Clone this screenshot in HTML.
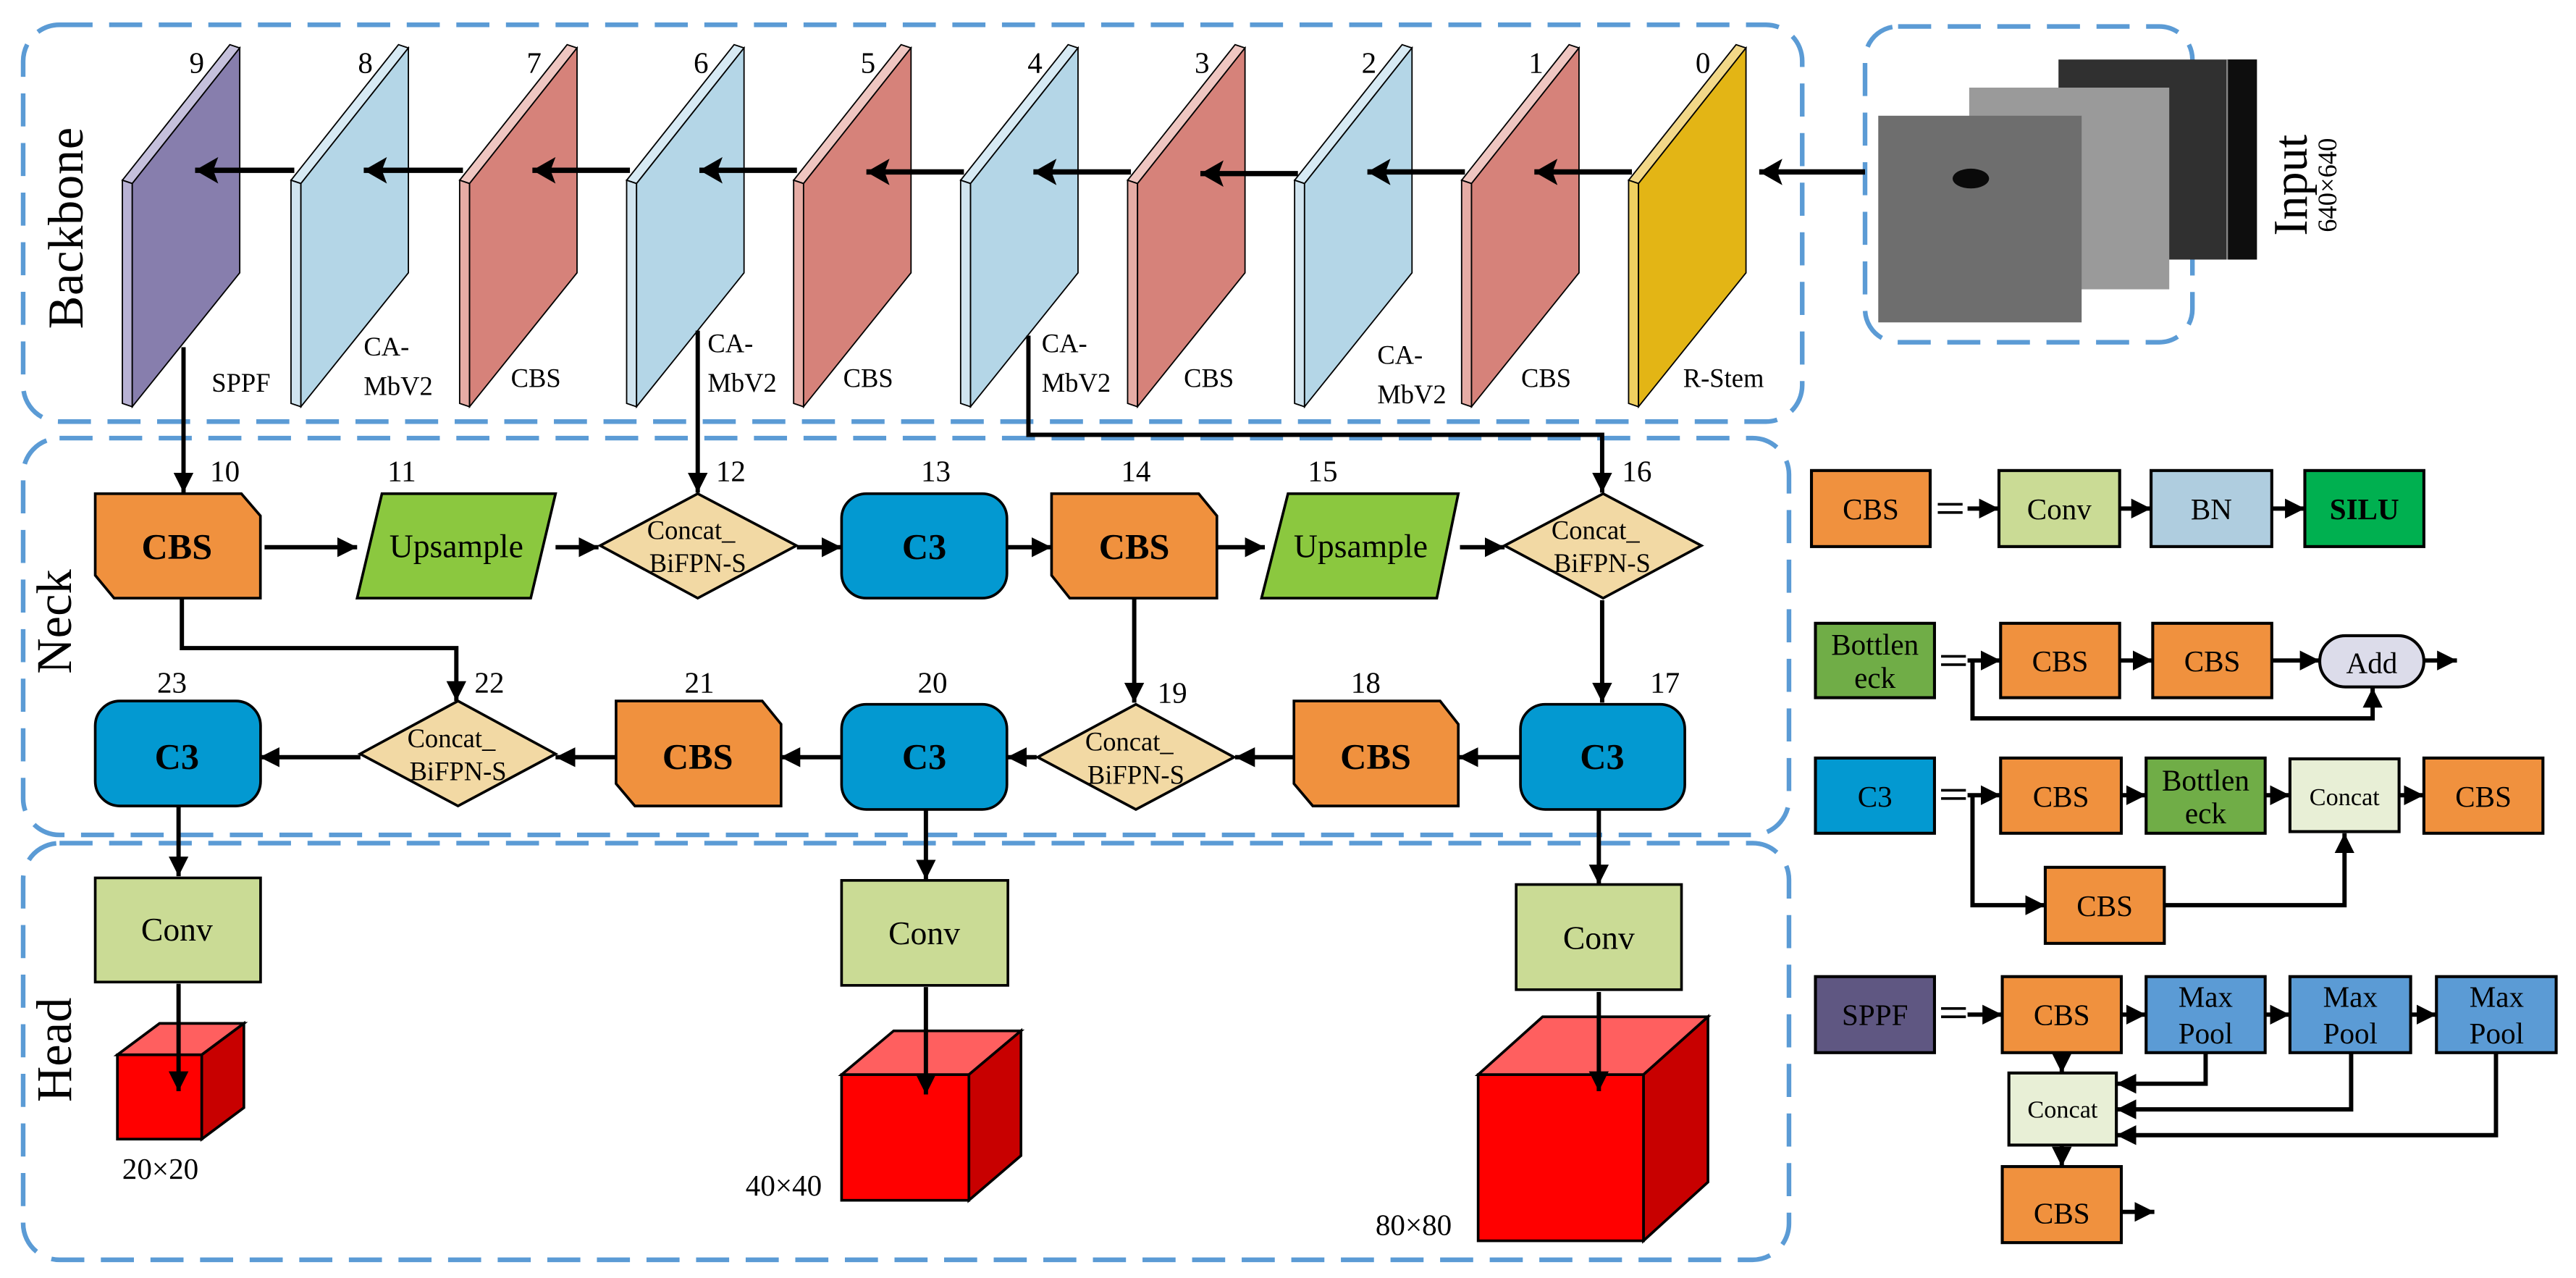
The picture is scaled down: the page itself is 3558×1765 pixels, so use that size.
<!DOCTYPE html>
<html><head><meta charset="utf-8"><style>
html,body{margin:0;padding:0;background:#fff;}
svg{display:block;font-family:"Liberation Serif","Times New Roman",serif;}
text{font-family:"Liberation Serif","Times New Roman",serif;}
</style></head><body>
<svg width="3558" height="1765" viewBox="0 0 1558 773" preserveAspectRatio="none" xmlns="http://www.w3.org/2000/svg" font-family="Liberation Serif, serif">
<defs>
<marker id="a" markerUnits="userSpaceOnUse" markerWidth="14" markerHeight="12" refX="12" refY="6" orient="auto"><path d="M0,0 L12,6 L0,12 z" fill="#000"/></marker>
<marker id="b" markerUnits="userSpaceOnUse" markerWidth="16" markerHeight="16" refX="14" refY="8" orient="auto"><path d="M0,0 L14,8 L0,16 L3,8 z" fill="#000"/></marker>
</defs>
<rect width="1558" height="773" fill="#fff"/>
<g fill="none" stroke="#5b9bd5" stroke-width="2.8" stroke-dasharray="20 10">
<rect x="14" y="15" width="1076" height="240" rx="22"/>
<rect x="1128" y="16" width="198" height="191" rx="20"/>
<rect x="14" y="265" width="1068" height="240" rx="22"/>
<rect x="14" y="510" width="1068" height="252" rx="22"/>
</g>
<g font-size="30" fill="#000">
<text transform="translate(50,138) rotate(-90)" text-anchor="middle" textLength="122">Backbone</text>
<text transform="translate(43,376) rotate(-90)" text-anchor="middle">Neck</text>
<text transform="translate(43,635) rotate(-90)" text-anchor="middle">Head</text>
<text transform="translate(1395,112) rotate(-90)" text-anchor="middle" font-size="29">Input</text>
<text transform="translate(1413,112) rotate(-90)" text-anchor="middle" font-size="16">640×640</text>
</g>
<rect x="1245" y="36" width="120" height="121" fill="#303030"/>
<rect x="1347" y="36" width="18" height="121" fill="#0e0e0e"/>
<line x1="1347" y1="36" x2="1347" y2="157" stroke="#888" stroke-width="1"/>
<rect x="1191" y="53" width="121" height="122" fill="#9a9a9a"/>
<rect x="1136" y="70" width="123" height="125" fill="#6e6e6e"/>
<ellipse cx="1192" cy="108" rx="11" ry="6" fill="#0a0a0a"/>
<g stroke="#000" stroke-width="0.8">
<g><polygon points="74,109 139,27 145,29 80,111" fill="#c5c0dc"/><polygon points="74,109 80,111 80,246 74,244" fill="#b8b2d4"/><polygon points="80,111 145,29 145,165 80,246" fill="#877ead"/></g>
<g><polygon points="176,109 241,27 247,29 182,111" fill="#d7eaf4"/><polygon points="176,109 182,111 182,246 176,244" fill="#d0e4ef"/><polygon points="182,111 247,29 247,165 182,246" fill="#b4d6e7"/></g>
<g><polygon points="278,109 343,27 349,29 284,111" fill="#efc6c1"/><polygon points="278,109 284,111 284,246 278,244" fill="#e6aca5"/><polygon points="284,111 349,29 349,165 284,246" fill="#d6827a"/></g>
<g><polygon points="379,109 444,27 450,29 385,111" fill="#d7eaf4"/><polygon points="379,109 385,111 385,246 379,244" fill="#d0e4ef"/><polygon points="385,111 450,29 450,165 385,246" fill="#b4d6e7"/></g>
<g><polygon points="480,109 545,27 551,29 486,111" fill="#efc6c1"/><polygon points="480,109 486,111 486,246 480,244" fill="#e6aca5"/><polygon points="486,111 551,29 551,165 486,246" fill="#d6827a"/></g>
<g><polygon points="581,109 646,27 652,29 587,111" fill="#d7eaf4"/><polygon points="581,109 587,111 587,246 581,244" fill="#d0e4ef"/><polygon points="587,111 652,29 652,165 587,246" fill="#b4d6e7"/></g>
<g><polygon points="682,109 747,27 753,29 688,111" fill="#efc6c1"/><polygon points="682,109 688,111 688,246 682,244" fill="#e6aca5"/><polygon points="688,111 753,29 753,165 688,246" fill="#d6827a"/></g>
<g><polygon points="783,109 848,27 854,29 789,111" fill="#d7eaf4"/><polygon points="783,109 789,111 789,246 783,244" fill="#d0e4ef"/><polygon points="789,111 854,29 854,165 789,246" fill="#b4d6e7"/></g>
<g><polygon points="884,109 949,27 955,29 890,111" fill="#efc6c1"/><polygon points="884,109 890,111 890,246 884,244" fill="#e6aca5"/><polygon points="890,111 955,29 955,165 890,246" fill="#d6827a"/></g>
<g><polygon points="985,109 1050,27 1056,29 991,111" fill="#f2d888"/><polygon points="985,109 991,111 991,246 985,244" fill="#efcf60"/><polygon points="991,111 1056,29 1056,165 991,246" fill="#e3b515"/></g>
</g>
<g font-size="18" text-anchor="middle">
<text x="119" y="44">9</text><text x="221" y="44">8</text><text x="323" y="44">7</text><text x="424" y="44">6</text><text x="525" y="44">5</text><text x="626" y="44">4</text><text x="727" y="44">3</text><text x="828" y="44">2</text><text x="929" y="44">1</text><text x="1030" y="44">0</text>
</g>
<g font-size="16">
<text x="128" y="237">SPPF</text>
<text x="220" y="215">CA-</text><text x="220" y="239">MbV2</text>
<text x="309" y="234">CBS</text>
<text x="428" y="213">CA-</text><text x="428" y="237">MbV2</text>
<text x="510" y="234">CBS</text>
<text x="630" y="213">CA-</text><text x="630" y="237">MbV2</text>
<text x="716" y="234">CBS</text>
<text x="833" y="220">CA-</text><text x="833" y="244">MbV2</text>
<text x="920" y="234">CBS</text>
<text x="1018" y="234">R-Stem</text>
</g>
<g stroke="#000" stroke-width="3.2" marker-end="url(#b)">
<line x1="178" y1="103" x2="118" y2="103"/>
<line x1="280" y1="103" x2="220" y2="103"/>
<line x1="381" y1="103" x2="322" y2="103"/>
<line x1="482" y1="103" x2="423" y2="103"/>
<line x1="583" y1="104" x2="524" y2="104"/>
<line x1="684" y1="104" x2="625" y2="104"/>
<line x1="785" y1="105" x2="726" y2="105"/>
<line x1="886" y1="104" x2="827" y2="104"/>
<line x1="987" y1="104" x2="928" y2="104"/>
<line x1="1128" y1="104" x2="1064" y2="104"/>
</g>
<g stroke="#000" stroke-width="2.6" fill="none" marker-end="url(#a)">
<polyline points="111,210 111,298"/>
<polyline points="422,200 422,298"/>
<polyline points="622,203 622,263 969,263 969,298"/>
<polyline points="160,331 216,331"/>
<polyline points="336,331 362,331"/>
<polyline points="482,331 509,331"/>
<polyline points="609,331 636,331"/>
<polyline points="736,331 765,331"/>
<polyline points="883,331 910,331"/>
<polyline points="969,363 969,425"/>
<polyline points="919,458 882,458"/>
<polyline points="782,458 747,458"/>
<polyline points="627,458 609,458"/>
<polyline points="509,458 472,458"/>
<polyline points="372,458 336,458"/>
<polyline points="218,458 157,458"/>
<polyline points="686,362 686,425"/>
<polyline points="110,362 110,392 276,392 276,424"/>
<polyline points="108,488 108,530"/>
<polyline points="560,490 560,532"/>
<polyline points="967,490 967,535"/>
</g>
<g stroke="#000" stroke-width="1.6">
<path d="M57.6,298.6 H146 L157.5,312 V361.8 H69 L57.6,348 Z" fill="#f0913e"/>
<path d="M636,298.6 H725 L736,312 V361.8 H647 L636,348 Z" fill="#f0913e"/>
<path d="M782.6,424 H871 L882,438 V487.5 H794 L782.6,474 Z" fill="#f0913e"/>
<path d="M372.6,424 H461 L472.4,438 V487.5 H384 L372.6,474 Z" fill="#f0913e"/>
<polygon points="231,298.6 336,298.6 321,361.8 216,361.8" fill="#8bc83f"/>
<polygon points="779,298.6 882,298.6 869,361.8 763,361.8" fill="#8bc83f"/>
<polygon points="363,330 422,298.6 481.7,330 422,361.8" fill="#f2d9a4"/>
<polygon points="910,330 969.6,298.6 1029,330 969.6,361.8" fill="#f2d9a4"/>
<polygon points="627.6,458 687,426 746.4,458 687,489.6" fill="#f2d9a4"/>
<polygon points="217.8,456 277,424 336,456 277,487.5" fill="#f2d9a4"/>
<rect x="509" y="298.6" width="100" height="63.2" rx="15" fill="#0399d1"/>
<rect x="919.6" y="426" width="99.4" height="63.6" rx="15" fill="#0399d1"/>
<rect x="509" y="426" width="100" height="63.6" rx="15" fill="#0399d1"/>
<rect x="57.6" y="424" width="100" height="63.5" rx="15" fill="#0399d1"/>
<rect x="57.6" y="531" width="100" height="63" fill="#cadb95"/>
<rect x="509" y="532.5" width="100.6" height="63.5" fill="#cadb95"/>
<rect x="917" y="535" width="100" height="63.6" fill="#cadb95"/>
<polygon points="71,638 96.5,619 147.5,619 122,638" fill="#ff5f5f"/>
<polygon points="122,638 147.5,619 147.5,670 122,689" fill="#c80000"/>
<rect x="71" y="638" width="51" height="51" fill="#ff0000"/>
<polygon points="509,650 540.5,623.5 617.5,623.5 586,650" fill="#ff5f5f"/>
<polygon points="586,650 617.5,623.5 617.5,699 586,726" fill="#c80000"/>
<rect x="509" y="650" width="77" height="76" fill="#ff0000"/>
<polygon points="894,650 933,615 1033,615 994,650" fill="#ff5f5f"/>
<polygon points="994,650 1033,615 1033,715 994,750.5" fill="#c80000"/>
<rect x="894" y="650" width="100" height="100.5" fill="#ff0000"/>
</g>
<g stroke="#000" stroke-width="2.6" marker-end="url(#a)">
<line x1="108" y1="595" x2="108" y2="660"/>
<line x1="560" y1="597" x2="560" y2="662"/>
<line x1="967" y1="600" x2="967" y2="660"/>
</g>
<g font-size="22" font-weight="bold" text-anchor="middle">
<text x="107" y="338">CBS</text><text x="686" y="338">CBS</text>
<text x="832" y="465">CBS</text><text x="422" y="465">CBS</text>
<text x="559" y="338">C3</text><text x="969" y="465">C3</text><text x="559" y="465">C3</text><text x="107" y="465">C3</text>
</g>
<g font-size="20" text-anchor="middle">
<text x="276" y="337">Upsample</text><text x="823" y="337">Upsample</text>
<text x="107" y="569">Conv</text><text x="559" y="571">Conv</text><text x="967" y="574">Conv</text>
</g>
<g font-size="16" text-anchor="middle">
<text x="418" y="326">Concat_</text><text x="422" y="346">BiFPN-S</text>
<text x="965" y="326">Concat_</text><text x="969" y="346">BiFPN-S</text>
<text x="683" y="454">Concat_</text><text x="687" y="474">BiFPN-S</text>
<text x="273" y="452">Concat_</text><text x="277" y="472">BiFPN-S</text>
</g>
<g font-size="18" text-anchor="middle">
<text x="136" y="291">10</text><text x="243" y="291">11</text><text x="442" y="291">12</text>
<text x="566" y="291">13</text><text x="687" y="291">14</text><text x="800" y="291">15</text><text x="990" y="291">16</text>
<text x="1007" y="419">17</text><text x="826" y="419">18</text><text x="709" y="425">19</text>
<text x="564" y="419">20</text><text x="423" y="419">21</text><text x="296" y="419">22</text><text x="104" y="419">23</text>
</g>
<g font-size="18" text-anchor="middle">
<text x="97" y="713">20×20</text><text x="474" y="723">40×40</text><text x="855" y="747">80×80</text>
</g>
<g stroke="#000" stroke-width="1.8">
<rect x="1095.6" y="284.6" width="71.8" height="46" fill="#f0913e"/>
<rect x="1209" y="284.6" width="73" height="46" fill="#cadb95"/>
<rect x="1301" y="284.6" width="73" height="46" fill="#afcddf"/>
<rect x="1394" y="284.6" width="72" height="46" fill="#00b050"/>
<rect x="1098" y="377" width="72" height="45" fill="#70ad47"/>
<rect x="1210" y="377" width="72" height="45" fill="#f0913e"/>
<rect x="1302" y="377" width="72" height="45" fill="#f0913e"/>
<rect x="1403" y="384.5" width="63" height="31" rx="15.5" fill="#dcdcea"/>
<rect x="1098" y="458.5" width="72" height="45.5" fill="#0399d1"/>
<rect x="1210" y="458.5" width="73" height="45.5" fill="#f0913e"/>
<rect x="1298" y="458.5" width="72" height="45.5" fill="#70ad47"/>
<rect x="1385" y="459" width="66" height="44" fill="#e8efd6"/>
<rect x="1466" y="458.5" width="72" height="45.5" fill="#f0913e"/>
<rect x="1237" y="524.6" width="72" height="46" fill="#f0913e"/>
<rect x="1098" y="590.7" width="72" height="46" fill="#5f5782"/>
<rect x="1211" y="590.7" width="72" height="46" fill="#f0913e"/>
<rect x="1298" y="590.7" width="72" height="46" fill="#5b9bd5"/>
<rect x="1385" y="590.7" width="73" height="46" fill="#5b9bd5"/>
<rect x="1473.6" y="590.7" width="72.4" height="46" fill="#5b9bd5"/>
<rect x="1215" y="649" width="65" height="43.6" fill="#e8efd6"/>
<rect x="1211" y="705.6" width="72" height="46" fill="#f0913e"/>
</g>
<g stroke="#000" stroke-width="1.6">
<line x1="1172" y1="305" x2="1187" y2="305"/><line x1="1172" y1="310" x2="1187" y2="310"/>
<line x1="1174" y1="397" x2="1189" y2="397"/><line x1="1174" y1="402" x2="1189" y2="402"/>
<line x1="1174" y1="478" x2="1189" y2="478"/><line x1="1174" y1="483" x2="1189" y2="483"/>
<line x1="1174" y1="610" x2="1189" y2="610"/><line x1="1174" y1="615" x2="1189" y2="615"/>
</g>
<g stroke="#000" stroke-width="2.6" fill="none" marker-end="url(#a)">
<polyline points="1190,307.6 1209,307.6"/>
<polyline points="1282,307.6 1301,307.6"/>
<polyline points="1374,307.6 1394,307.6"/>
<polyline points="1190,399.5 1210,399.5"/>
<polyline points="1282,399.5 1302,399.5"/>
<polyline points="1374,399.5 1403,399.5"/>
<polyline points="1466,399.5 1486,399.5"/>
<polyline points="1193,399.5 1193,434.5 1435,434.5 1435,416"/>
<polyline points="1190,481 1210,481"/>
<polyline points="1283,481 1298,481"/>
<polyline points="1370,481 1385,481"/>
<polyline points="1451,481 1466,481"/>
<polyline points="1193,481 1193,547.5 1237,547.5"/>
<polyline points="1309,547.5 1418,547.5 1418,504"/>
<polyline points="1190,613.7 1211,613.7"/>
<polyline points="1283,613.7 1298,613.7"/>
<polyline points="1370,613.7 1385,613.7"/>
<polyline points="1458,613.7 1473.6,613.7"/>
<polyline points="1247,636.7 1247,649"/>
<polyline points="1334,636.7 1334,655.5 1280,655.5"/>
<polyline points="1422,636.7 1422,671 1280,671"/>
<polyline points="1509.6,636.7 1509.6,686.6 1280,686.6"/>
<polyline points="1247,692.6 1247,705.6"/>
<polyline points="1283,733 1303,733"/>
</g>
<g font-size="18" text-anchor="middle">
<text x="1131.5" y="314">CBS</text>
<text x="1245.5" y="314">Conv</text>
<text x="1337.5" y="314">BN</text>
<text x="1430" y="314" font-weight="bold">SILU</text>
<text x="1134" y="396">Bottlen</text><text x="1134" y="416">eck</text>
<text x="1246" y="406">CBS</text><text x="1338" y="406">CBS</text>
<text x="1434.5" y="407">Add</text>
<text x="1134" y="488">C3</text>
<text x="1246.5" y="488">CBS</text>
<text x="1334" y="478">Bottlen</text><text x="1334" y="498">eck</text>
<text x="1418" y="487" font-size="15">Concat</text>
<text x="1502" y="488">CBS</text>
<text x="1273" y="554">CBS</text>
<text x="1134" y="620">SPPF</text>
<text x="1247" y="620">CBS</text>
<text x="1334" y="609">Max</text><text x="1334" y="631">Pool</text>
<text x="1421.5" y="609">Max</text><text x="1421.5" y="631">Pool</text>
<text x="1510" y="609">Max</text><text x="1510" y="631">Pool</text>
<text x="1247.5" y="676" font-size="15">Concat</text>
<text x="1247" y="740">CBS</text>
</g>
</svg>
</body></html>
